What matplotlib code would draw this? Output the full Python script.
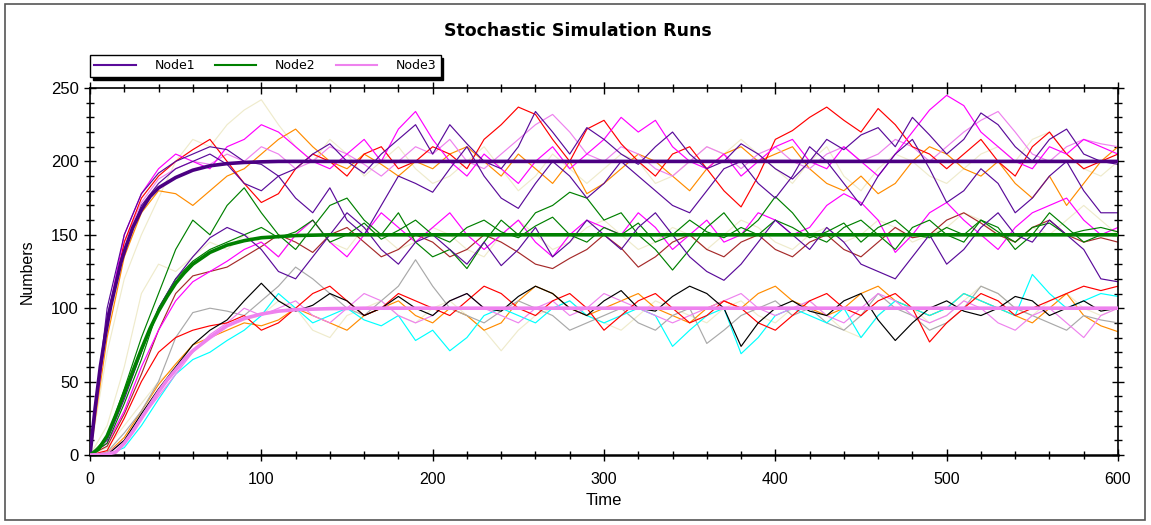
import matplotlib
matplotlib.use("Agg")
import matplotlib.pyplot as plt
from matplotlib.lines import Line2D
from matplotlib.patches import Rectangle
from matplotlib.ticker import MultipleLocator
import numpy as np

# time grid of the stochastic runs (every 10 time units)
t = np.arange(0, 601, 10)

# ---- Node1 runs (settle near 200) ----
n1_purple_a = [0, 100, 150, 178, 192, 200, 205, 210, 208, 200,
               198, 190, 195, 205, 212, 200, 192, 205, 215, 225,
               205, 225, 212, 200, 195, 210, 234, 220, 205, 223,
               215, 205, 198, 210, 220, 205, 195, 200, 212, 205,
               195, 188, 200, 215, 208, 218, 223, 210, 230, 218,
               205, 215, 233, 225, 210, 200, 215, 222, 205, 200,
               198]
n1_purple_b = [0, 95, 140, 170, 185, 195, 200, 205, 198, 185,
               180, 190, 175, 165, 182, 160, 150, 170, 190, 185,
               179, 195, 210, 190, 175, 168, 185, 200, 190, 175,
               185, 200, 190, 180, 170, 165, 180, 195, 200, 185,
               175, 190, 210, 200, 185, 170, 190, 205, 215, 195,
               172, 180, 195, 185, 165, 175, 190, 200, 180, 165,
               165]
n1_red = [0, 90, 145, 175, 190, 200, 208, 215, 200, 185,
          172, 178, 195, 205, 200, 190, 205, 210, 195, 200,
          210, 205, 195, 215, 225, 237, 232, 215, 200, 222,
          228, 212, 200, 190, 205, 210, 195, 180, 169, 190,
          215, 221, 230, 237, 228, 220, 236, 225, 210, 205,
          195, 205, 215, 200, 190, 210, 220, 205, 195, 200,
          205]
n1_magenta = [0, 92, 150, 178, 195, 205, 200, 195, 210, 215,
              225, 220, 210, 200, 195, 205, 215, 200, 222, 234,
              215, 200, 190, 205, 195, 185, 200, 210, 195, 205,
              215, 230, 220, 228, 210, 200, 195, 205, 190, 200,
              210, 215, 200, 195, 210, 200, 190, 205, 220, 235,
              245, 238, 220, 210, 200, 195, 210, 205, 215, 210,
              205]
n1_orange = [0, 80, 135, 165, 180, 178, 170, 180, 190, 195,
             205, 215, 222, 210, 200, 195, 205, 198, 190, 200,
             195, 205, 210, 200, 190, 205, 195, 185, 200, 178,
             185, 195, 205, 200, 190, 180, 195, 205, 210, 200,
             205, 210, 195, 185, 180, 190, 178, 185, 200, 210,
             205, 195, 190, 200, 185, 175, 190, 170, 185, 200,
             210]
n1_beige = [0, 70, 120, 150, 175, 200, 215, 210, 225, 235,
            242, 225, 210, 200, 215, 205, 190, 200, 210, 195,
            185, 190, 200, 210, 195, 180, 190, 205, 195, 185,
            195, 205, 200, 185, 190, 200, 210, 205, 215, 205,
            195, 185, 200, 210, 190, 180, 195, 205, 200, 190,
            185, 195, 205, 210, 200, 215, 220, 205, 195, 190,
            200]
n1_violet = [0, 88, 145, 172, 188, 195, 200, 198, 205, 200,
             210, 205, 195, 200, 210, 205, 198, 190, 200, 210,
             205, 215, 200, 195, 205, 215, 225, 232, 220, 205,
             200, 210, 205, 195, 190, 200, 210, 205, 195, 205,
             210, 200, 195, 205, 210, 200, 205, 215, 210, 200,
             210, 220, 228, 234, 220, 205, 200, 210, 215, 212,
             210]

# ---- Node2 runs (settle near 150) ----
n2_green_a = [0, 12, 45, 80, 110, 140, 160, 150, 170, 182,
              165, 150, 140, 155, 170, 175, 160, 150, 165, 145,
              135, 140, 127, 145, 160, 150, 165, 170, 179, 175,
              160, 165, 150, 140, 126, 140, 155, 165, 150, 160,
              176, 165, 150, 145, 155, 160, 150, 140, 155, 160,
              150, 145, 160, 155, 140, 150, 165, 155, 145, 150,
              150]
n2_green_b = [0, 8, 35, 65, 100, 120, 132, 140, 145, 150,
              155, 148, 152, 160, 145, 150, 158, 147, 153, 160,
              150, 145, 155, 160, 152, 148, 156, 162, 150, 145,
              155, 150, 158, 145, 150, 160, 152, 148, 155, 150,
              160, 155, 148, 152, 158, 145, 155, 160, 150, 148,
              155, 150, 160, 152, 145, 155, 158, 150, 153, 155,
              152]
n2_purple = [0, 10, 38, 70, 100, 120, 135, 148, 155, 150,
             140, 125, 120, 135, 150, 165, 155, 140, 130, 145,
             150, 140, 130, 145, 129, 140, 155, 135, 145, 160,
             150, 140, 155, 165, 150, 135, 125, 119, 130, 145,
             160, 150, 140, 155, 145, 130, 125, 120, 135, 150,
             130, 140, 155, 165, 150, 145, 160, 150, 140, 120,
             118]
n2_magenta = [0, 8, 30, 60, 85, 105, 118, 125, 132, 140,
              145, 135, 150, 160, 145, 135, 150, 165, 155, 145,
              155, 165, 150, 140, 150, 160, 145, 135, 150, 160,
              155, 150, 165, 155, 140, 150, 160, 145, 150, 165,
              160, 150, 155, 170, 178, 172, 160, 138, 150, 165,
              172, 160, 150, 140, 155, 165, 170, 175, 160, 150,
              155]
n2_brown = [0, 6, 28, 55, 85, 110, 122, 125, 128, 135,
            142, 150, 145, 138, 150, 155, 145, 135, 140, 150,
            145, 135, 140, 150, 145, 138, 130, 127, 134, 140,
            150, 141, 128, 135, 145, 150, 140, 135, 145, 150,
            140, 135, 145, 150, 140, 135, 145, 155, 148, 150,
            160, 165, 158, 150, 145, 155, 160, 150, 145, 148,
            145]
n2_beige = [0, 20, 60, 110, 130, 125, 135, 145, 140, 150,
            145, 135, 150, 160, 145, 140, 155, 150, 140, 145,
            155, 150, 140, 135, 150, 160, 150, 140, 145, 155,
            160, 150, 140, 145, 155, 150, 140, 150, 160, 155,
            145, 140, 150, 155, 145, 150, 160, 155, 145, 150,
            155, 165, 160, 150, 145, 155, 150, 160, 170, 160,
            150]

# ---- Node3 runs (settle near 100) ----
n3_black = [0, 0, 10, 28, 45, 60, 75, 85, 92, 105,
            117, 105, 98, 102, 110, 105, 95, 100, 108, 100,
            95, 105, 110, 100, 98, 108, 115, 110, 100, 95,
            105, 112, 100, 98, 108, 115, 110, 100, 74, 90,
            100, 105, 98, 95, 105, 110, 92, 78, 90, 100,
            105, 98, 95, 100, 108, 105, 95, 100, 105, 98,
            100]
n3_gray = [0, 2, 15, 30, 50, 80, 97, 100, 98, 95,
           105, 115, 128, 120, 110, 100, 95, 105, 115, 133,
           115, 100, 95, 90, 98, 105, 100, 95, 85, 90,
           95, 100, 90, 85, 95, 100, 76, 85, 95, 100,
           105, 95, 100, 90, 85, 95, 110, 100, 95, 85,
           90, 100, 115, 110, 100, 95, 90, 85, 95, 92,
           90]
n3_cyan = [0, 0, 5, 20, 38, 55, 65, 70, 78, 85,
           95, 110, 100, 90, 95, 100, 92, 88, 95, 78,
           85, 71, 80, 95, 100, 95, 90, 100, 105, 95,
           90, 95, 100, 95, 74, 85, 95, 100, 69, 80,
           95, 100, 95, 90, 100, 80, 95, 105, 100, 95,
           100, 110, 105, 100, 95, 123, 110, 100, 105, 110,
           108]
n3_red = [0, 3, 25, 50, 70, 80, 85, 88, 90, 95,
          85, 90, 100, 110, 115, 105, 95, 100, 110, 105,
          100, 95, 105, 115, 110, 100, 95, 105, 110, 100,
          85, 95, 105, 110, 100, 90, 95, 105, 100, 90,
          85, 95, 105, 110, 100, 95, 105, 110, 100, 77,
          90, 100, 110, 105, 95, 100, 105, 110, 115, 112,
          115]
n3_orange = [0, 1, 12, 30, 48, 62, 75, 80, 85, 90,
             88, 92, 100, 95, 90, 85, 95, 100, 105, 95,
             90, 100, 95, 85, 90, 105, 115, 110, 100, 95,
             100, 105, 110, 100, 95, 90, 100, 105, 100, 110,
             115, 105, 100, 95, 100, 110, 115, 105, 100, 95,
             100, 110, 105, 100, 95, 90, 100, 110, 95, 88,
             84]
n3_violet = [0, 1, 10, 25, 40, 55, 70, 82, 90, 100,
             95, 100, 105, 95, 90, 100, 110, 105, 95, 90,
             95, 105, 110, 100, 95, 90, 100, 105, 95, 100,
             110, 105, 100, 95, 90, 95, 100, 105, 110, 100,
             95, 100, 105, 95, 90, 100, 110, 105, 95, 90,
             95, 105, 100, 90, 85, 95, 100, 90, 80, 95,
             100]
n3_beige = [0, 5, 20, 35, 50, 60, 70, 80, 88, 92,
            95, 105, 100, 85, 80, 95, 100, 105, 95, 90,
            100, 105, 95, 85, 71, 85, 95, 100, 105, 95,
            90, 85, 95, 105, 100, 95, 90, 100, 105, 95,
            90, 100, 105, 95, 85, 80, 95, 105, 100, 90,
            95, 105, 115, 110, 100, 95, 105, 110, 100, 95,
            100]

# ---- deterministic (mean) curves ----
det1_t = [0, 3, 6, 9, 12, 15, 18, 21, 25, 30, 35, 40, 50, 60, 70, 80, 90, 100, 110, 600]
det1_v = [0, 32, 60, 82, 101, 116, 131, 142, 155, 167, 176, 182, 189, 194, 197, 198.5, 199.3, 199.7, 200, 200]
det2_t = [0, 5, 10, 15, 20, 25, 30, 35, 40, 45, 50, 55, 60, 70, 80, 90, 100, 120, 140, 160, 600]
det2_v = [0, 4, 13, 27, 42, 57, 72, 86, 98, 108, 117, 124, 130, 138, 143, 146, 148, 149.5, 150, 150, 150]
det3_t = [0, 10, 15, 20, 25, 30, 35, 40, 45, 50, 55, 60, 70, 80, 90, 100, 110, 120, 140, 160, 600]
det3_v = [0, 0.5, 2, 8, 16, 25, 34, 43, 51, 58, 65, 71, 80, 88, 93, 96, 98, 99, 99.7, 100, 100]

PURPLE = "#5a0b9a"
GREEN = "#008000"
VIOLET = "#ee82ee"
BEIGE = "#efebcc"

runs = [
    (n1_beige, BEIGE), (n2_beige, BEIGE), (n3_beige, BEIGE),
    (n1_orange, "#ff8c00"), (n3_orange, "#ff8c00"),
    (n3_gray, "#a9a9a9"), (n3_cyan, "#00ffff"),
    (n1_violet, VIOLET), (n3_violet, VIOLET),
    (n2_brown, "#a52a2a"),
    (n1_red, "#ff0000"), (n3_red, "#ff0000"),
    (n1_magenta, "#ff00ff"), (n2_magenta, "#ff00ff"),
    (n2_green_a, GREEN), (n2_green_b, GREEN),
    (n1_purple_b, PURPLE), (n2_purple, PURPLE), (n1_purple_a, PURPLE),
    (n3_black, "#000000"),
]

fig = plt.figure(figsize=(11.51, 5.25), dpi=100)
ax = fig.add_axes([90 / 1151, 1 - 455 / 525, (1118 - 90) / 1151, (455 - 88) / 525])

for vals, col in runs:
    ax.plot(t, vals, color=col, lw=0.85)

ax.plot(det1_t, det1_v, color="#4b0082", lw=2.6, zorder=5)
ax.plot(det2_t, det2_v, color=GREEN, lw=2.6, zorder=5)
ax.plot(det3_t, det3_v, color=VIOLET, lw=2.6, zorder=5)

ax.set_xlim(0, 600)
ax.set_ylim(0, 250)
ax.xaxis.set_major_locator(MultipleLocator(100))
ax.xaxis.set_minor_locator(MultipleLocator(20))
ax.yaxis.set_major_locator(MultipleLocator(50))
ax.yaxis.set_minor_locator(MultipleLocator(10))
ax.tick_params(which="both", direction="inout", top=True, right=True,
               labeltop=False, labelright=False, width=1)
ax.tick_params(which="major", length=9)
ax.tick_params(which="minor", length=6)
ax.tick_params(axis="x", pad=8)
for lab in ax.get_xticklabels():
    lab.set_fontfamily("Liberation Sans")
    lab.set_fontsize(11.5)
for lab in ax.get_yticklabels():
    lab.set_fontfamily("Liberation Sans")
    lab.set_fontsize(12)
for s in ax.spines.values():
    s.set_linewidth(1.2)
ax.spines["bottom"].set_linewidth(1.8)

ax.set_xlabel("Time", fontsize=12, family="Liberation Sans", labelpad=4)
ax.set_ylabel("Numbers", fontsize=11.5, family="Liberation Sans", labelpad=12)

fig.text(578 / 1151, 1 - 31 / 525, "Stochastic Simulation Runs", ha="center", va="center",
         fontsize=12.5, fontweight="bold", family="DejaVu Sans")

handles = [Line2D([], [], color=PURPLE, lw=1.5),
           Line2D([], [], color=GREEN, lw=1.5),
           Line2D([], [], color=VIOLET, lw=1.5)]
leg = fig.legend(handles, ["Node1", "Node2", "Node3"], loc="upper left",
                 bbox_to_anchor=(90 / 1151, 1 - 55 / 525), ncol=3, fontsize=9,
                 frameon=True, fancybox=False, edgecolor="black", borderaxespad=0,
                 handlelength=3.3, handletextpad=1.5, columnspacing=1.6,
                 borderpad=0.35, shadow={"color": "black", "alpha": 1})
leg.get_frame().set_linewidth(1.0)

fig.patches.append(Rectangle((5 / 1151, 5 / 525), 1140 / 1151, 516 / 525, transform=fig.transFigure,
                             fill=False, edgecolor="#555555", lw=1.2))

fig.savefig("out.png", dpi=100)
